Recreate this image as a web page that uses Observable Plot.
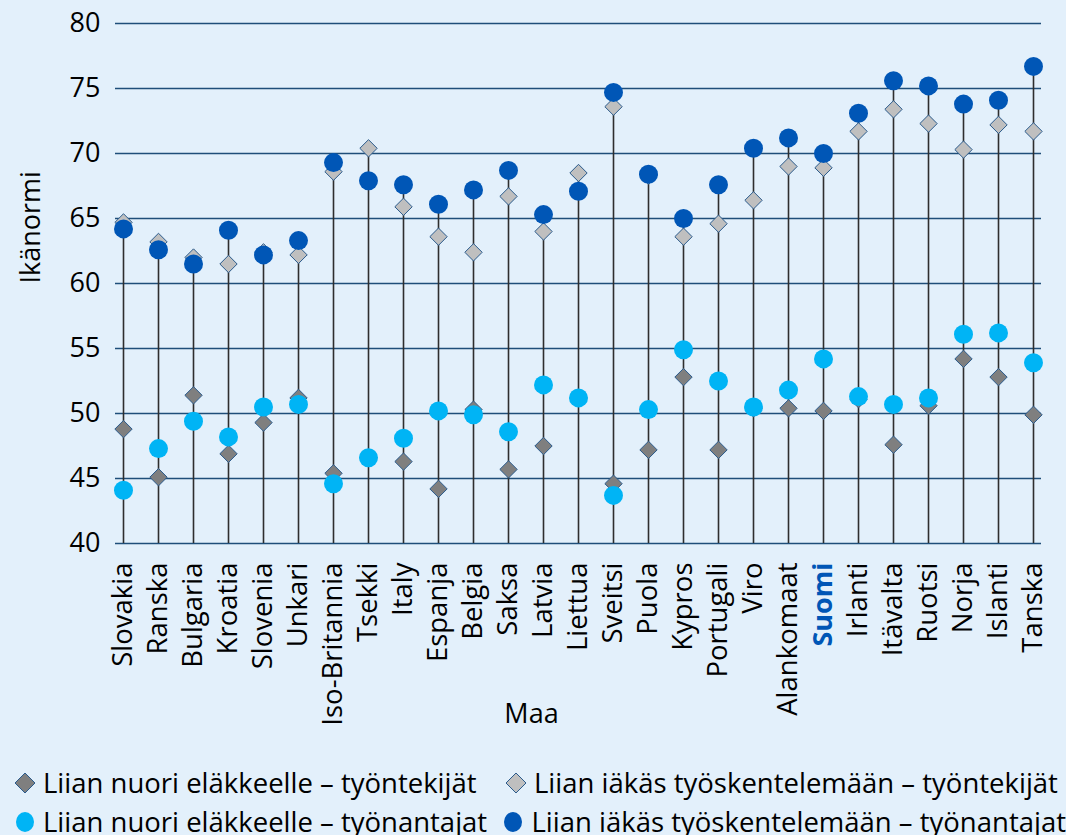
<!DOCTYPE html>
<html>
<head>
<meta charset="utf-8">
<script src="https://cdn.jsdelivr.net/npm/d3@7"></script>
<script src="https://cdn.jsdelivr.net/npm/@observablehq/plot@0.6"></script>
<style>
  html, body { margin: 0; padding: 0; background: #e3f0fb; }
  body { width: 1066px; height: 835px; overflow: hidden; font-family: "Open Sans", sans-serif; color: #000; }
  #legend { position: relative; height: 75px; font-size: 27.5px; }
  .row { display: flex; height: 39px; align-items: center; white-space: nowrap; }
  .item { display: flex; align-items: center; }
  .item svg { margin-right: 7px; }
</style>
</head>
<body>
<div id="chart"></div>
<div id="legend"></div>
<script>
const countries = ["Slovakia","Ranska","Bulgaria","Kroatia","Slovenia","Unkari","Iso-Britannia","Tsekki","Italy","Espanja","Belgia","Saksa","Latvia","Liettua","Sveitsi","Puola","Kypros","Portugali","Viro","Alankomaat","Suomi","Irlanti","Itävalta","Ruotsi","Norja","Islanti","Tanska"];
// Liian nuori eläkkeelle – työntekijät
const youngWorkers = [48.8,45.1,51.4,46.9,49.3,51.2,45.4,46.6,46.3,44.2,50.3,45.7,47.5,51.2,44.6,47.2,52.8,47.2,50.4,50.4,50.2,51.1,47.6,50.6,54.2,52.8,49.9];
// Liian iäkäs työskentelemään – työntekijät
const oldWorkers = [64.7,63.2,62.0,61.5,62.4,62.2,68.6,70.4,65.9,63.6,62.4,66.7,64.0,68.5,73.6,68.3,63.6,64.6,66.4,69.0,68.9,71.7,73.4,72.3,70.3,72.2,71.7];
// Liian nuori eläkkeelle – työnantajat
const youngEmployers = [44.1,47.3,49.4,48.2,50.5,50.7,44.6,46.6,48.1,50.2,49.9,48.6,52.2,51.2,43.7,50.3,54.9,52.5,50.5,51.8,54.2,51.3,50.7,51.2,56.1,56.2,53.9];
// Liian iäkäs työskentelemään – työnantajat
const oldEmployers = [64.2,62.6,61.5,64.1,62.2,63.3,69.3,67.9,67.6,66.1,67.2,68.7,65.3,67.1,74.7,68.4,65.0,67.6,70.4,71.2,70.0,73.1,75.6,75.2,73.8,74.1,76.7];
const yTicks = [40,45,50,55,60,65,70,75,80];
const seriesNames = [
  "Liian nuori eläkkeelle – työntekijät",
  "Liian iäkäs työskentelemään – työntekijät",
  "Liian nuori eläkkeelle – työnantajat",
  "Liian iäkäs työskentelemään – työnantajat"
];
const highlight = "Suomi";

const rows = countries.map((c, i) => ({
  country: c,
  yw: youngWorkers[i], ow: oldWorkers[i], ye: youngEmployers[i], oe: oldEmployers[i],
  top: Math.max(youngWorkers[i], oldWorkers[i], youngEmployers[i], oldEmployers[i])
}));

const C = {dark: "#7f7f7f", light: "#bfbfbf", cyan: "#00b4f5", blue: "#0056b6", edge: "#2b5b8c"};

const chart = Plot.plot({
  width: 1066,
  height: 760,
  marginTop: 23,
  marginBottom: 217,
  marginLeft: 115,
  marginRight: 25,
  style: {background: "transparent", fontFamily: "Open Sans, sans-serif", color: "#000"},
  x: {domain: countries, padding: 0, axis: null},
  y: {domain: [40, 80]},
  marks: [
    Plot.gridY({ticks: yTicks, stroke: "#1f4e79", strokeOpacity: 1, strokeWidth: 1.5}),
    Plot.axisY({ticks: yTicks, tickSize: 0, tickPadding: 15, fontSize: 27, label: null}),
    Plot.ruleX(rows, {x: "country", y1: 40, y2: "top", stroke: "#2e2e2e", strokeWidth: 1.6}),
    Plot.dot(rows, {x: "country", y: "yw", symbol: "diamond2", r: 7.8, fill: C.dark, stroke: C.edge, strokeWidth: 1}),
    Plot.dot(rows, {x: "country", y: "ow", symbol: "diamond2", r: 7.8, fill: C.light, stroke: C.edge, strokeWidth: 1}),
    Plot.dot(rows, {x: "country", y: "ye", r: 9.5, fill: C.cyan}),
    Plot.dot(rows, {x: "country", y: "oe", r: 9.5, fill: C.blue}),
    Plot.text(countries.filter(c => c !== highlight), {x: d => d, frameAnchor: "bottom", rotate: -90, textAnchor: "end", lineAnchor: "middle", dy: 19, fontSize: 27.5, fill: "#000"}),
    Plot.text([highlight], {x: d => d, frameAnchor: "bottom", rotate: -90, textAnchor: "end", lineAnchor: "middle", dy: 19, fontSize: 27, fontWeight: "bold", fill: C.blue}),
    Plot.text(["Maa"], {frameAnchor: "bottom", dy: 179, dx: -47, fontSize: 27, fill: "#000"}),
    Plot.text(["Ikänormi"], {frameAnchor: "left", rotate: -90, dx: -84, fontSize: 27, fill: "#000"})
  ]
});
document.getElementById("chart").appendChild(chart);

// Legend
const markers = [
  `<svg width="22" height="22"><path d="M11,1 L21,11 L11,21 L1,11 Z" fill="${C.dark}" stroke="${C.edge}" stroke-width="1"/></svg>`,
  `<svg width="22" height="22"><path d="M11,1 L21,11 L11,21 L1,11 Z" fill="${C.light}" stroke="${C.edge}" stroke-width="1"/></svg>`,
  `<svg width="22" height="22"><ellipse cx="11" cy="11" rx="9" ry="10" fill="${C.cyan}"/></svg>`,
  `<svg width="22" height="22"><ellipse cx="11" cy="11" rx="9" ry="10" fill="${C.blue}"/></svg>`
];
const legend = d3.select("#legend");
[[0, 1], [2, 3]].forEach((pair, r) => {
  const row = legend.append("div").attr("class", "row").style("padding-left", "14px")
    .style("margin-top", r === 0 ? "3px" : "0px");
  pair.forEach((k, j) => {
    row.append("div").attr("class", "item").style("width", j === 0 ? "491px" : null)
      .html(markers[k] + `<span>${seriesNames[k]}</span>`);
  });
});
</script>
</body>
</html>
